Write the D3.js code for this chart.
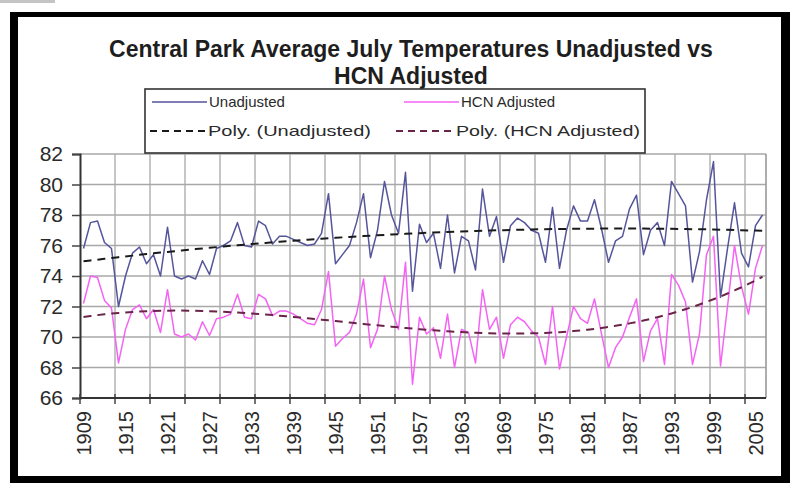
<!DOCTYPE html>
<html><head><meta charset="utf-8">
<script src="https://cdn.jsdelivr.net/npm/d3@7"></script>
<style>
html,body{margin:0;padding:0;background:#fff;}
svg{display:block;font-family:"Liberation Sans",Arial,sans-serif;}
</style></head>
<body>
<svg id="chart" width="793" height="483"></svg>
<script>
// ---- data ----
const startYear = 1909;
const unadjusted = [
 75.8,77.5,77.6,76.2,75.8,72.0,74.0,75.5,75.9,74.8,75.4,74.0,77.2,74.0,73.8,74.0,
 73.8,75.0,74.1,75.8,76.0,76.3,77.5,76.0,75.9,77.6,77.3,76.1,76.6,76.6,76.4,76.2,
 76.0,76.1,76.8,79.4,74.8,75.4,76.0,77.5,79.4,75.2,77.0,80.2,78.0,76.8,80.8,73.0,
 77.4,76.2,76.8,74.5,78.0,74.2,76.6,76.3,74.4,79.7,76.6,77.9,74.9,77.3,77.8,77.5,
 77.0,76.8,74.9,78.5,74.5,77.0,78.6,77.6,77.6,79.0,77.1,74.9,76.3,76.6,78.4,79.3,
 75.4,77.0,77.5,76.0,80.2,79.4,78.6,73.6,75.6,79.0,81.5,72.6,75.8,78.8,75.5,74.6,77.3,78.0
];
const hcnAdjusted = [
 72.2,74.0,73.9,72.4,71.9,68.3,70.5,71.8,72.1,71.2,71.8,70.3,73.1,70.2,70.0,70.2,
 69.8,71.0,70.1,71.2,71.3,71.5,72.8,71.3,71.2,72.8,72.5,71.4,71.7,71.7,71.5,71.2,
 70.9,70.8,71.8,74.3,69.4,69.9,70.3,71.5,73.8,69.3,70.5,74.0,71.8,70.5,74.9,66.9,
 71.3,70.2,70.6,68.6,71.5,68.0,70.5,70.3,68.3,73.1,70.5,71.3,68.6,70.8,71.3,71.0,
 70.4,70.0,68.2,72.0,67.9,70.0,72.0,71.2,70.9,72.5,70.2,68.0,69.3,70.0,71.3,72.5,
 68.4,70.4,71.2,68.2,74.1,73.4,72.3,68.2,70.2,75.4,76.6,68.1,72.0,76.0,73.3,71.5,74.5,76.0
];
const years = unadjusted.map((_, i) => startYear + i);
const xLabelYears = [1909,1915,1921,1927,1933,1939,1945,1951,1957,1963,1969,1975,1981,1987,1993,1999,2005];
const yTicks = [66,68,70,72,74,76,78,80,82];
const titleLines = ["Central Park Average July Temperatures Unadjusted vs", "HCN Adjusted"];
const seriesNames = ["Unadjusted", "HCN Adjusted", "Poly. (Unadjusted)", "Poly. (HCN Adjusted)"];
const polyOrder = [2, 3];

// ---- polynomial least squares (Excel "Poly." trendline) ----
function polyFit(vals, order) {
  const n = vals.length;
  const xs = vals.map((_, i) => (i + 1 - (n + 1) / 2) / n);
  const m = order + 1;
  const A = Array.from({length: m}, () => new Array(m + 1).fill(0));
  for (let k = 0; k < n; k++) {
    const p = []; for (let j = 0; j < m; j++) p.push(Math.pow(xs[k], j));
    for (let r = 0; r < m; r++) {
      for (let c = 0; c < m; c++) A[r][c] += p[r] * p[c];
      A[r][m] += p[r] * vals[k];
    }
  }
  for (let i = 0; i < m; i++) {
    let piv = i;
    for (let r = i + 1; r < m; r++) if (Math.abs(A[r][i]) > Math.abs(A[piv][i])) piv = r;
    [A[i], A[piv]] = [A[piv], A[i]];
    for (let r = 0; r < m; r++) if (r !== i) {
      const f = A[r][i] / A[i][i];
      for (let c = i; c <= m; c++) A[r][c] -= f * A[i][c];
    }
  }
  const coef = A.map((row, i) => row[m] / row[i]);
  return xs.map(x => coef.reduce((s, c, j) => s + c * Math.pow(x, j), 0));
}
const trendU = polyFit(unadjusted, polyOrder[0]);
const trendH = polyFit(hcnAdjusted, polyOrder[1]);

// ---- layout ----
const svg = d3.select("#chart");
const plot = {left: 80, right: 766, top: 154, bottom: 398};
const colU = "#55559c", colH = "#f463f4", colTU = "#1a1a1a", colTH = "#6a2448";
const textCol = "#2a2a2a";

// small gray tab + black frame
svg.append("rect").attr("x", 0).attr("y", 0).attr("width", 55).attr("height", 3).attr("fill", "#c4c4c4");
svg.append("rect").attr("x", 10).attr("y", 12).attr("width", 780).attr("height", 471).attr("fill", "#000");
svg.append("rect").attr("x", 18).attr("y", 17).attr("width", 763).attr("height", 459).attr("fill", "#fff");

const x = d3.scaleBand().domain(years).range([plot.left, plot.right]).padding(0);
const cx = yr => x(yr) + x.bandwidth() / 2;
const y = d3.scaleLinear().domain([66, 82]).range([plot.bottom, plot.top]);

// gridlines
const g = svg.append("g");
g.selectAll("line.h").data(yTicks).join("line")
  .attr("x1", plot.left).attr("x2", plot.right)
  .attr("y1", d => y(d)).attr("y2", d => y(d))
  .attr("stroke", "#a8a8a8").attr("stroke-width", 1.3);
const vGrid = years.filter((_, i) => i % 5 === 0).slice(1);
g.selectAll("line.v").data(vGrid).join("line")
  .attr("x1", d => x(d)).attr("x2", d => x(d))
  .attr("y1", plot.top).attr("y2", plot.bottom)
  .attr("stroke", "#a8a8a8").attr("stroke-width", 1.3);
g.append("line").attr("x1", plot.right).attr("x2", plot.right).attr("y1", plot.top).attr("y2", plot.bottom)
  .attr("stroke", "#999").attr("stroke-width", 1.6);

// y axis
const yAxis = svg.append("g").attr("transform", `translate(${plot.left},0)`)
  .call(d3.axisLeft(y).tickValues(yTicks).tickSize(8).tickPadding(9).tickFormat(d3.format("d")));
yAxis.select(".domain").attr("stroke", "#333").attr("stroke-width", 2);
yAxis.selectAll(".tick line").attr("stroke", "#444").attr("stroke-width", 1.5);
yAxis.selectAll(".tick text").attr("fill", textCol).style("font-size", "21px")
  .style("font-family", "'Liberation Sans',Arial,sans-serif");

// x axis: tick marks every 5 categories (cross), labels every 6
const tickPos = years.filter((_, i) => i % 5 === 0).map(d => x(d));
svg.append("g").selectAll("line").data(tickPos).join("line")
  .attr("x1", d => d).attr("x2", d => d).attr("y1", plot.bottom - 4).attr("y2", plot.bottom + 6)
  .attr("stroke", "#444").attr("stroke-width", 1.5);
svg.append("line").attr("x1", plot.left).attr("x2", plot.right).attr("y1", plot.bottom).attr("y2", plot.bottom)
  .attr("stroke", "#333").attr("stroke-width", 2);
const xAxis = svg.append("g").attr("transform", `translate(0,${plot.bottom})`)
  .call(d3.axisBottom(x).tickValues(xLabelYears).tickSize(0).tickPadding(0));
xAxis.select(".domain").remove();
xAxis.selectAll(".tick text")
  .attr("transform", "translate(0,13) rotate(-90)")
  .attr("x", 0).attr("y", 0).attr("dy", "0.36em")
  .attr("text-anchor", "end").attr("fill", textCol)
  .style("font-size", "20px").style("font-family", "'Liberation Sans',Arial,sans-serif");

// series
const line = d3.line().x((d, i) => cx(years[i])).y(d => y(d));
svg.append("path").datum(hcnAdjusted).attr("d", line).attr("fill", "none")
  .attr("stroke", colH).attr("stroke-width", 1.5).attr("stroke-linejoin", "round");
svg.append("path").datum(unadjusted).attr("d", line).attr("fill", "none")
  .attr("stroke", colU).attr("stroke-width", 1.5).attr("stroke-linejoin", "round");
svg.append("path").datum(trendU).attr("d", line).attr("fill", "none")
  .attr("stroke", colTU).attr("stroke-width", 2).attr("stroke-dasharray", "8,6");
svg.append("path").datum(trendH).attr("d", line).attr("fill", "none")
  .attr("stroke", colTH).attr("stroke-width", 2).attr("stroke-dasharray", "8,6");

// title
svg.append("g").selectAll("text").data(titleLines).join("text")
  .attr("x", 411).attr("y", (d, i) => 57 + i * 27)
  .attr("text-anchor", "middle").attr("fill", "#1e1e1e")
  .style("font-size", "23px").style("font-weight", "bold").text(d => d);

// legend
const lg = svg.append("g");
lg.append("rect").attr("x", 145).attr("y", 89).attr("width", 500).attr("height", 64)
  .attr("fill", "#fff").attr("stroke", "#333").attr("stroke-width", 1.6);
const legendItems = [
  {name: seriesNames[0], col: colU, dash: null, x: 152, y: 102, w: 55, lw: 1.6, tl: null},
  {name: seriesNames[1], col: colH, dash: null, x: 404, y: 102, w: 55, lw: 1.6, tl: null},
  {name: seriesNames[2], col: colTU, dash: "7,5", x: 150, y: 131, w: 56, lw: 2, tl: 163},
  {name: seriesNames[3], col: colTH, dash: "7,5", x: 396, y: 131, w: 58, lw: 2, tl: 184}
];
legendItems.forEach(it => {
  lg.append("line").attr("x1", it.x).attr("x2", it.x + it.w).attr("y1", it.y).attr("y2", it.y)
    .attr("stroke", it.col).attr("stroke-width", it.lw).attr("stroke-dasharray", it.dash);
  const t = lg.append("text").attr("x", it.x + it.w + 2).attr("y", it.y + 5).attr("fill", textCol)
    .style("font-size", "15px").text(it.name);
  if (it.tl) t.attr("textLength", it.tl).attr("lengthAdjust", "spacingAndGlyphs");
});
</script>
</body></html>
